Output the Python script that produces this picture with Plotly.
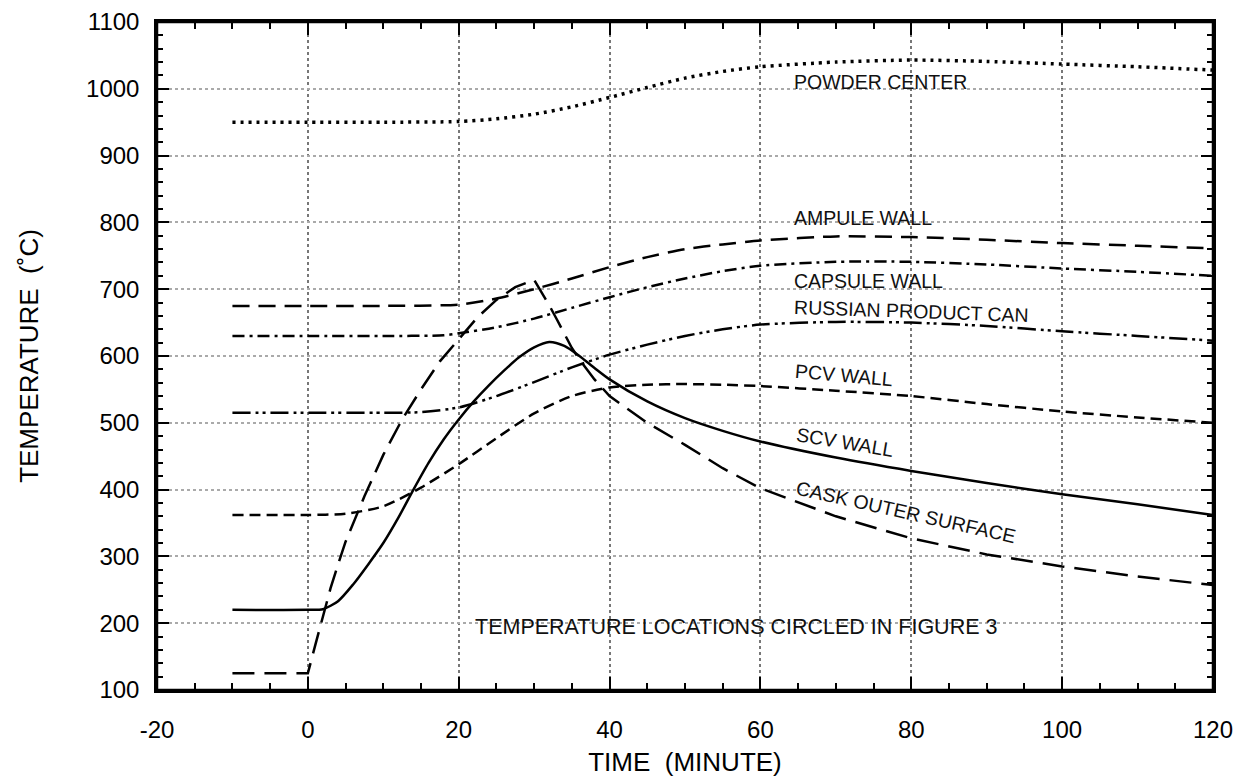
import plotly.graph_objects as go

# ---- data ----
powder_t = [-10, 0, 10, 20, 25, 30, 35, 40, 45, 50, 55, 60, 70, 80, 90, 100, 110, 120]
powder_T = [950, 950, 950, 951, 955, 962, 973, 987, 1002, 1016, 1026, 1033, 1040, 1043, 1041, 1037, 1033, 1028]

ampule_t = [-10, 0, 10, 20, 25, 30, 35, 40, 45, 50, 55, 60, 70, 80, 90, 100, 110, 120]
ampule_T = [675, 675, 675, 677, 686, 700, 716, 733, 748, 760, 767, 773, 779, 778, 774, 769, 765, 761]

capsule_t = [-10, 0, 10, 18, 20, 25, 30, 35, 40, 45, 50, 55, 60, 70, 80, 90, 100, 110, 120]
capsule_T = [630, 630, 630, 631, 634, 643, 656, 672, 688, 703, 716, 727, 735, 741, 741, 737, 731, 726, 720]

russian_t = [-10, 0, 10, 15, 20, 25, 30, 35, 40, 45, 50, 55, 60, 70, 80, 90, 100, 110, 120]
russian_T = [515, 515, 515, 516, 523, 540, 561, 583, 602, 617, 630, 640, 647, 651, 650, 645, 637, 630, 623]

pcv_t = [-10, 0, 5, 10, 15, 20, 25, 30, 35, 40, 45, 50, 55, 60, 70, 80, 90, 100, 110, 120]
pcv_T = [362, 362, 364, 375, 403, 438, 477, 514, 540, 553, 557, 558, 557, 555, 548, 540, 528, 517, 508, 500]

scv_t = [-10, 0, 2, 4, 6, 8, 10, 12, 14, 16, 18, 20, 22, 24, 26, 28, 30, 32, 34, 36, 38, 40,
         45, 50, 55, 60, 70, 80, 90, 100, 110, 120]
scv_T = [220, 220, 221, 233, 258, 288, 320, 358, 400, 440, 475, 505, 532, 556, 578, 598, 613, 621,
         615, 600, 582, 565, 532, 507, 488, 472, 448, 428, 410, 393, 378, 362]

cask_t = [-10, 0, 1, 2, 3, 4, 5, 7.5, 10, 12.5, 15, 17.5, 20, 22.5, 25, 27.5, 30, 31, 32, 33, 34,
          35, 36, 37, 38, 40, 45, 50, 55, 60, 70, 80, 90, 100, 110, 120]
cask_T = [125, 125, 168, 212, 252, 288, 322, 390, 452, 505, 550, 592, 625, 658, 684, 703, 714,
          696, 676, 655, 633, 612, 595, 580, 565, 540, 500, 467, 432, 402, 360, 327, 303, 285, 270, 257]

x_ticks = [-20, 0, 20, 40, 60, 80, 100, 120]
y_ticks = [100, 200, 300, 400, 500, 600, 700, 800, 900, 1000, 1100]

# (text, x, y, angle, font size)
labels = [
    ("POWDER CENTER", 64.2, 1010, 0, 19.5),
    ("AMPULE WALL", 64.2, 806, 0, 19.5),
    ("CAPSULE WALL", 64.2, 712, 0, 19.5),
    ("RUSSIAN PRODUCT CAN", 64.2, 668, 2, 19.5),
    ("PCV WALL", 64.2, 571, 5, 19.5),
    ("SCV WALL", 64.2, 471, 9.5, 19.5),
    ("CASK OUTER SURFACE", 64.2, 367, 12.6, 19.5),
]
note = ("TEMPERATURE LOCATIONS CIRCLED IN FIGURE 3", 56.8, 195, 0, 21.5)

series = [
    (powder_t, powder_T, "POWDER CENTER", "3px,5px", 3.5, "spline"),
    (ampule_t, ampule_T, "AMPULE WALL", "17px,9px", 2.5, "spline"),
    (capsule_t, capsule_T, "CAPSULE WALL", "12px,5px,3px,5px", 2.5, "spline"),
    (russian_t, russian_T, "RUSSIAN PRODUCT CAN", "18px,5px,3px,4px,3px,5px", 2.5, "spline"),
    (pcv_t, pcv_T, "PCV WALL", "11px,6px", 2.5, "spline"),
    (scv_t, scv_T, "SCV WALL", "solid", 2.5, "spline"),
    (cask_t, cask_T, "CASK OUTER SURFACE", "22px,10px", 2.5, "linear"),
]

fig = go.Figure()
for t, T, name, dash, w, shape in series:
    line = dict(color="black", width=w, dash=dash, shape=shape)
    if shape == "spline":
        line["smoothing"] = 0.7
    fig.add_trace(go.Scatter(x=t, y=T, mode="lines", name=name, line=line, showlegend=False))

for text, x, y, ang, fs in labels:
    fig.add_annotation(x=x, y=y, xref="x", yref="y", text=text, showarrow=False,
                       xanchor="left", yanchor="middle", textangle=ang,
                       font=dict(family="Arial", size=fs, color="#111"))
text, x, y, ang, fs = note
fig.add_annotation(x=x, y=y, xref="x", yref="y", text=text, showarrow=False,
                   xanchor="center", yanchor="middle", textangle=ang,
                   font=dict(family="Arial", size=fs, color="#111"))

# plot frame
fig.add_shape(type="rect", xref="paper", yref="paper", x0=0, y0=0, x1=1, y1=1,
              line=dict(color="black", width=2.5), layer="above")

tick_font = dict(family="Arial", size=24, color="black")
title_font = dict(family="Arial", size=26, color="black")
fig.update_layout(
    width=1234, height=774,
    margin=dict(l=149, r=29, t=14, b=92, autoexpand=False),
    paper_bgcolor="white", plot_bgcolor="white",
    xaxis=dict(
        range=[-20, 120], tickvals=x_ticks, ticktext=[str(v) for v in x_ticks],
        ticks="inside", ticklen=13, tickwidth=2, tickcolor="black",
        showline=True, linewidth=2.5, linecolor="black", mirror="ticks",
        showgrid=True, gridcolor="#777", griddash="dot", gridwidth=1.5,
        zeroline=False, tickfont=tick_font, ticklabelstandoff=16, automargin=False,
        ticklabeloverflow="allow",
        minor=dict(dtick=5, ticks="inside", ticklen=7, tickwidth=2, tickcolor="black", showgrid=False),
        title=dict(text="TIME  (MINUTE)", font=title_font, standoff=12),
    ),
    yaxis=dict(
        range=[100, 1100], tickvals=y_ticks, ticktext=[str(v) for v in y_ticks],
        ticks="inside", ticklen=12, tickwidth=2, tickcolor="black",
        showline=True, linewidth=2.5, linecolor="black", mirror="ticks",
        showgrid=True, gridcolor="#aaa", griddash="dot", gridwidth=1.5,
        zeroline=False, tickfont=tick_font, ticklabelstandoff=10, automargin=False,
        ticklabeloverflow="allow",
        minor=dict(dtick=20, ticks="inside", ticklen=6, tickwidth=2, tickcolor="black", showgrid=False),
        title=dict(text="TEMPERATURE  (˚C)", font=title_font, standoff=40),
    ),
)

fig.write_html("out.html")
